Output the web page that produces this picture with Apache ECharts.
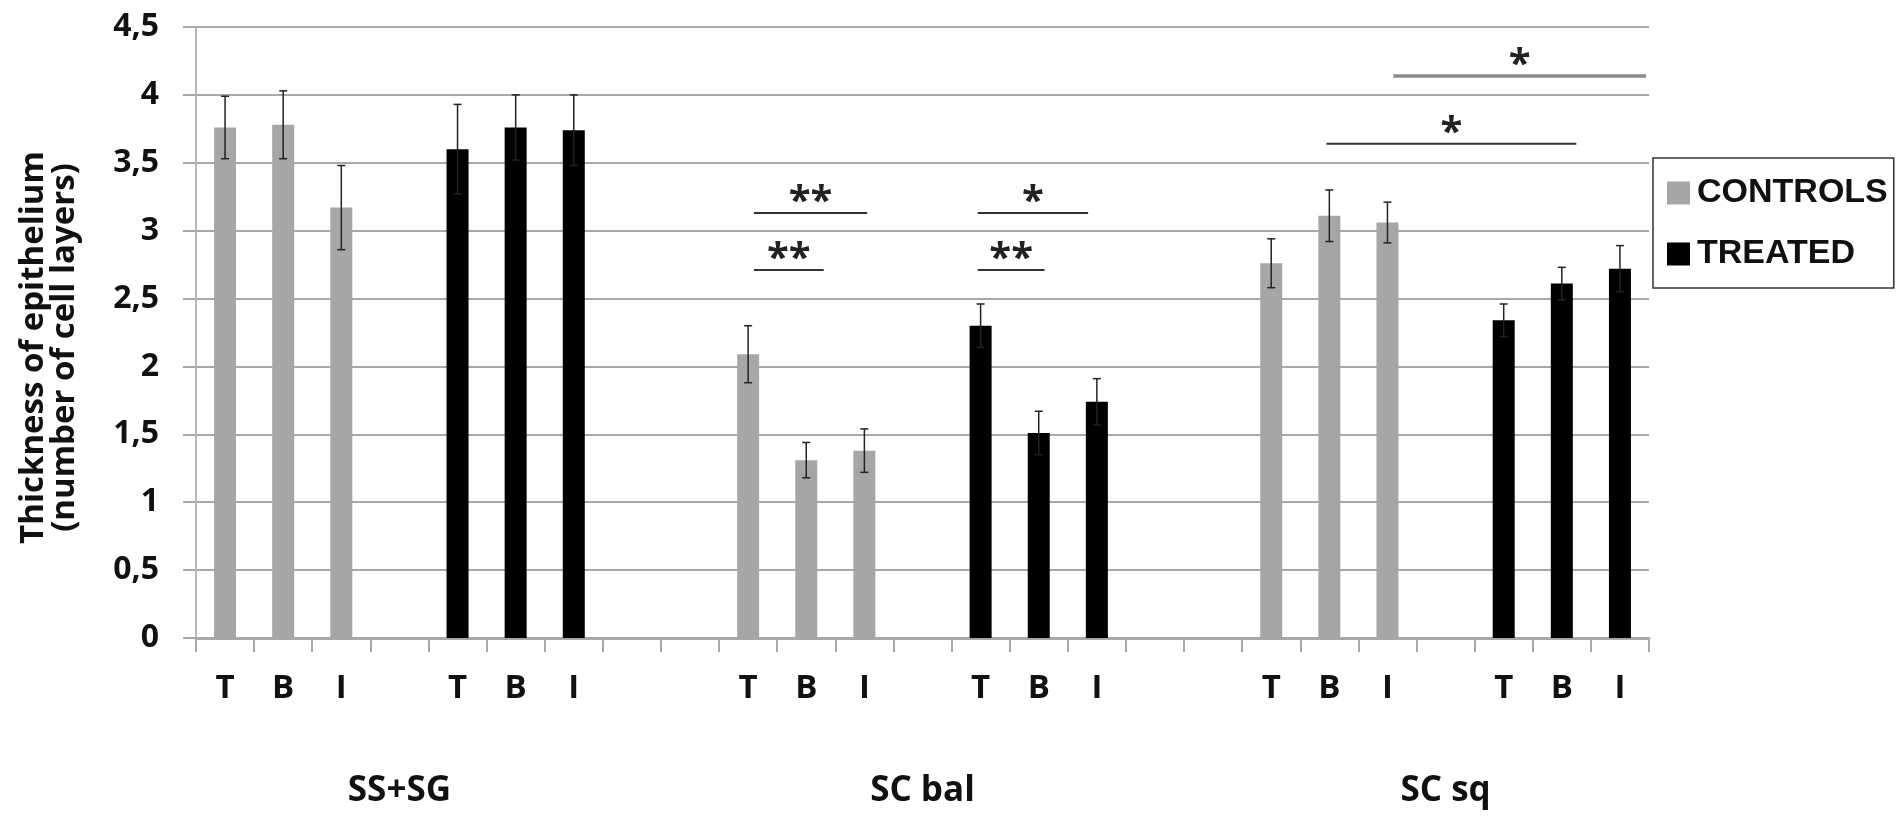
<!DOCTYPE html>
<html>
<head>
<meta charset="utf-8">
<script src="https://cdn.jsdelivr.net/npm/echarts@6/dist/echarts.min.js"></script>
<style>
  html, body { margin: 0; padding: 0; background: #fff; }
  #chart { width: 1896px; height: 817px; }
</style>
</head>
<body>
<div id="chart"></div>
<script>
// 25 category slots: T B I per group, blank slots are spacers
var categories = ['T','B','I','','T','B','I','','','T','B','I','','T','B','I','','','T','B','I','','T','B','I'];
var groupLabels = ['','','','SS+SG','','','','','','','','','SC bal','','','','','','','','','SC sq','','',''];
var yTicks = [0, 0.5, 1, 1.5, 2, 2.5, 3, 3.5, 4, 4.5];

// controls (grey)
var ctrlIdx  = [0, 1, 2, 9, 10, 11, 18, 19, 20];
var ctrlMean = [3.76, 3.78, 3.17, 2.09, 1.31, 1.38, 2.76, 3.11, 3.06];
var ctrlSd   = [0.23, 0.25, 0.31, 0.21, 0.13, 0.16, 0.18, 0.19, 0.15];

// treated (black)
var trtIdx  = [4, 5, 6, 13, 14, 15, 22, 23, 24];
var trtMean = [3.60, 3.76, 3.74, 2.30, 1.51, 1.74, 2.34, 2.61, 2.72];
var trtSd   = [0.33, 0.24, 0.26, 0.16, 0.16, 0.17, 0.12, 0.12, 0.17];

// significance bars: start / end slot position, height, marker
var sigFrom  = [9.1, 9.1, 12.95, 12.95, 18.95];
var sigTo    = [11.05, 10.3, 14.85, 14.1, 23.25];
var sigY     = [3.13, 2.71, 3.13, 2.71, 3.64];
var sigLabel = ['**', '**', '*', '**', '*'];
// the top one in SC sq is drawn grey and thicker
var sigTopFrom = [20.1], sigTopTo = [24.45], sigTopY = [4.14], sigTopLabel = ['*'];

function fill(idx, vals) {
  var out = categories.map(function () { return '-'; });
  idx.forEach(function (k, i) { out[k] = vals[i]; });
  return out;
}
function errData(idx, mean, sd) {
  return idx.map(function (k, i) { return [k, mean[i] - sd[i], mean[i] + sd[i]]; });
}
function sigData(from, to, y, lab) {
  return from.map(function (f, i) { return [f, to[i], y[i], lab[i]]; });
}

var FONT = '"Open Sans", sans-serif';

function renderErr(params, api) {
  var lo = api.coord([api.value(0), api.value(1)]);
  var hi = api.coord([api.value(0), api.value(2)]);
  var c = 4;
  var st = { stroke: '#222', lineWidth: 1.5 };
  return {
    type: 'group',
    children: [
      { type: 'line', shape: { x1: lo[0], y1: lo[1], x2: hi[0], y2: hi[1] }, style: st },
      { type: 'line', shape: { x1: hi[0] - c, y1: hi[1], x2: hi[0] + c, y2: hi[1] }, style: st },
      { type: 'line', shape: { x1: lo[0] - c, y1: lo[1], x2: lo[0] + c, y2: lo[1] }, style: st }
    ]
  };
}

function slotX(api, v, y) {
  var base = Math.floor(v);
  var p = api.coord([base, y]);
  var band = api.size([1, 0])[0];
  return [p[0] + (v - base) * band, p[1]];
}

function makeSigRender(color, width) {
  return function (params, api) {
    var a = slotX(api, api.value(0), api.value(2));
    var b = slotX(api, api.value(1), api.value(2));
    return {
      type: 'group',
      children: [
        { type: 'line', shape: { x1: a[0], y1: a[1], x2: b[0], y2: b[1] },
          style: { stroke: color, lineWidth: width } },
        { type: 'text', x: (a[0] + b[0]) / 2, y: a[1] - 10,
          style: { text: api.value(3), font: 'bold 40px ' + FONT, fill: '#222',
                   textAlign: 'center', textVerticalAlign: 'middle' } }
      ]
    };
  };
}

var myChart = echarts.init(document.getElementById('chart'));
var option = {
  animation: false,
  backgroundColor: '#fff',
  grid: { left: 196, right: 247, top: 27, bottom: 179 },
  legend: {
    data: ['CONTROLS', 'TREATED'],
    orient: 'vertical',
    left: 1653,
    top: 158,
    itemWidth: 23,
    itemHeight: 23,
    itemGap: 25,
    icon: 'rect',
    padding: [17, 6, 16, 14],
    borderColor: '#333',
    borderWidth: 1.5,
    textStyle: {
      fontFamily: '"Liberation Sans", Arial, sans-serif',
      fontWeight: 'bold',
      fontSize: 34,
      lineHeight: 36,
      color: '#111',
      padding: [0, 0, 0, 2]
    }
  },
  xAxis: [
    {
      type: 'category',
      data: categories,
      axisLine: { lineStyle: { color: '#a8a8a8', width: 3 } },
      axisTick: { show: true, interval: 0, length: 14, lineStyle: { color: '#a8a8a8', width: 2 } },
      axisLabel: { interval: 0, margin: 34, fontFamily: FONT, fontWeight: 'bold', fontSize: 33, color: '#111' }
    },
    {
      type: 'category',
      data: groupLabels,
      position: 'bottom',
      axisLine: { show: false },
      axisTick: { show: false },
      axisLabel: { interval: 0, margin: 136, fontFamily: FONT, fontWeight: 'bold', fontSize: 35, color: '#111' }
    }
  ],
  yAxis: {
    type: 'value',
    min: yTicks[0],
    max: yTicks[yTicks.length - 1],
    interval: 0.5,
    name: 'Thickness of epithelium\n(number of cell layers)',
    nameLocation: 'middle',
    nameRotate: 90,
    nameGap: 116,
    nameTextStyle: { fontFamily: FONT, fontWeight: 'bold', fontSize: 33, lineHeight: 31, color: '#111', padding: [0, 30, 0, 0] },
    axisLine: { show: true, lineStyle: { color: '#b8b8b8', width: 2 } },
    axisTick: { show: true, length: 13, lineStyle: { color: '#a8a8a8', width: 2 } },
    splitLine: { lineStyle: { color: '#a8a8a8', width: 2 } },
    axisLabel: {
      margin: 37, fontFamily: FONT, fontWeight: 'bold', fontSize: 32, color: '#111',
      formatter: function (v) { return String(v).replace('.', ','); }
    }
  },
  series: [
    {
      name: 'CONTROLS', type: 'bar', barWidth: 22, barGap: '-100%',
      itemStyle: { color: '#a6a6a6' },
      data: fill(ctrlIdx, ctrlMean)
    },
    {
      name: 'TREATED', type: 'bar', barWidth: 22, barGap: '-100%',
      itemStyle: { color: '#000' },
      data: fill(trtIdx, trtMean)
    },
    {
      type: 'custom', z: 5, renderItem: renderErr,
      encode: { x: 0, y: [1, 2] },
      data: errData(ctrlIdx, ctrlMean, ctrlSd)
    },
    {
      type: 'custom', z: 5, renderItem: renderErr,
      encode: { x: 0, y: [1, 2] },
      data: errData(trtIdx, trtMean, trtSd)
    },
    {
      type: 'custom', z: 6, renderItem: makeSigRender('#333', 2),
      encode: { x: [0, 1], y: 2 },
      data: sigData(sigFrom, sigTo, sigY, sigLabel)
    },
    {
      type: 'custom', z: 6, renderItem: makeSigRender('#8a8a8a', 3.5),
      encode: { x: [0, 1], y: 2 },
      data: sigData(sigTopFrom, sigTopTo, sigTopY, sigTopLabel)
    }
  ]
};
myChart.setOption(option);
window.onresize = function () { myChart.resize(); };
</script>
</body>
</html>
